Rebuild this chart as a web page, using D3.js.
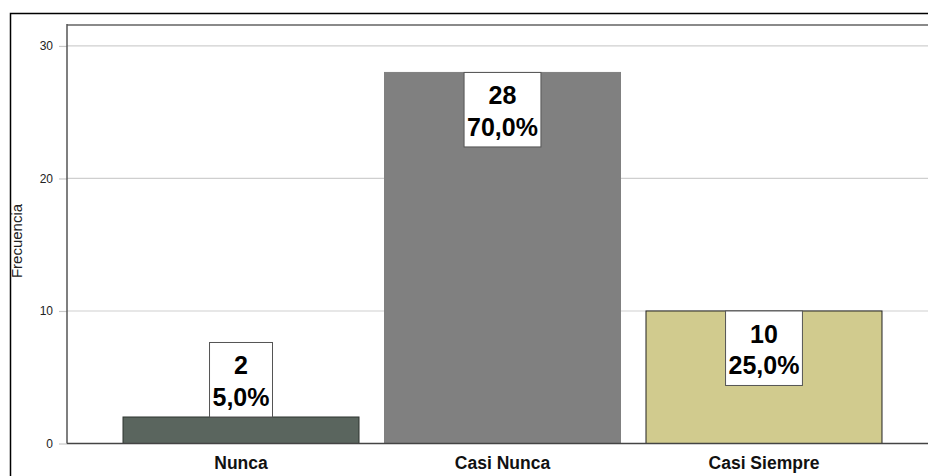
<!DOCTYPE html>
<html><head><meta charset="utf-8">
<script src="https://cdn.jsdelivr.net/npm/d3@7"></script>
<style>body{margin:0;background:#fff;}svg{display:block;font-family:"Liberation Sans",Arial,sans-serif;}</style>
</head><body>
<svg id="c" width="928" height="476"></svg>
<script>
const categories = ["Nunca", "Casi Nunca", "Casi Siempre"];
const counts = [2, 28, 10];
const percents = ["5,0%", "70,0%", "25,0%"];
const barColors = ["#5a655e", "#808080", "#d1cb8e"];
const barStrokes = ["#2e332f", "#808080", "#222222"];
const yTicks = [0, 10, 20, 30];
const yTitle = "Frecuencia";

const svg = d3.select("#c");
const plot = {left: 67, top: 25, right: 938, bottom: 443.5};

const x = d3.scaleBand().domain(categories).range([plot.left, plot.right])
  .paddingInner(0.0975).paddingOuter(0.2142);
const y = d3.scaleLinear().domain([0, 31.58]).range([plot.bottom, plot.top]);

// outer frame
svg.append("rect").attr("x", 10.5).attr("y", 13.5).attr("width", 940).attr("height", 480)
  .attr("fill", "none").attr("stroke", "#000").attr("stroke-width", 1.5);

// gridlines
svg.append("g").selectAll("line").data(yTicks.filter(d => d > 0)).join("line")
  .attr("x1", plot.left).attr("x2", 928).attr("y1", d => y(d)).attr("y2", d => y(d))
  .attr("stroke", "#cfcfcf").attr("stroke-width", 1.2);

// top frame line
svg.append("line").attr("x1", plot.left).attr("x2", 928).attr("y1", plot.top).attr("y2", plot.top)
  .attr("stroke", "#8a8a8a").attr("stroke-width", 2);

// y axis
const yAxis = d3.axisLeft(y).tickValues(yTicks).tickSize(8).tickPadding(6);
const gy = svg.append("g").attr("transform", `translate(${plot.left},0)`).call(yAxis);
gy.attr("font-size", 12).attr("font-family", "'Liberation Sans',Arial,sans-serif");
gy.select(".domain").remove();
gy.selectAll(".tick line").attr("stroke", "#c8c8c8").attr("stroke-width", 1.2);
gy.selectAll(".tick text").attr("fill", "#222");

svg.append("line").attr("x1", plot.left).attr("x2", plot.left).attr("y1", plot.top - 1).attr("y2", plot.bottom)
  .attr("stroke", "#555").attr("stroke-width", 1.5);

// y title
svg.append("text").attr("transform", `translate(22,241) rotate(-90)`)
  .attr("text-anchor", "middle").attr("font-size", 15).attr("fill", "#222").text(yTitle);

// bars
svg.append("g").selectAll("rect").data(categories).join("rect")
  .attr("x", d => x(d)).attr("width", x.bandwidth())
  .attr("y", (d, i) => y(counts[i])).attr("height", (d, i) => y(0) - y(counts[i]))
  .attr("fill", (d, i) => barColors[i]).attr("stroke", (d, i) => barStrokes[i]).attr("stroke-width", 1);

// baseline
svg.append("line").attr("x1", plot.left).attr("x2", 928).attr("y1", y(0)).attr("y2", y(0))
  .attr("stroke", "#444").attr("stroke-width", 1.5);

// x labels
svg.append("g").selectAll("text").data(categories).join("text")
  .attr("x", d => x(d) + x.bandwidth() / 2).attr("y", 469)
  .attr("text-anchor", "middle").attr("font-size", 17.5).attr("font-weight", "bold").attr("fill", "#111")
  .text(d => d);

// value labels
const boxH = 74.5;
categories.forEach((c, i) => {
  const g = svg.append("g");
  const cx = x(c) + x.bandwidth() / 2;
  const barTop = y(counts[i]);
  const barH = y(0) - barTop;
  const top = barH >= boxH ? barTop : barTop - boxH;
  const rect = g.append("rect");
  const t1 = g.append("text").attr("x", cx).attr("y", top + 32).attr("text-anchor", "middle")
    .attr("font-size", 25).attr("font-weight", "bold").attr("fill", "#000").text(counts[i]);
  const t2 = g.append("text").attr("x", cx).attr("y", top + 63.5).attr("text-anchor", "middle")
    .attr("font-size", 25).attr("font-weight", "bold").attr("fill", "#000").text(percents[i]);
  const w = Math.max(t1.node().getComputedTextLength(), t2.node().getComputedTextLength()) + 6;
  rect.attr("x", cx - w / 2).attr("y", top).attr("width", w).attr("height", boxH)
    .attr("fill", "#fff").attr("stroke", "#555").attr("stroke-width", 1);
});
</script>
</body></html>
